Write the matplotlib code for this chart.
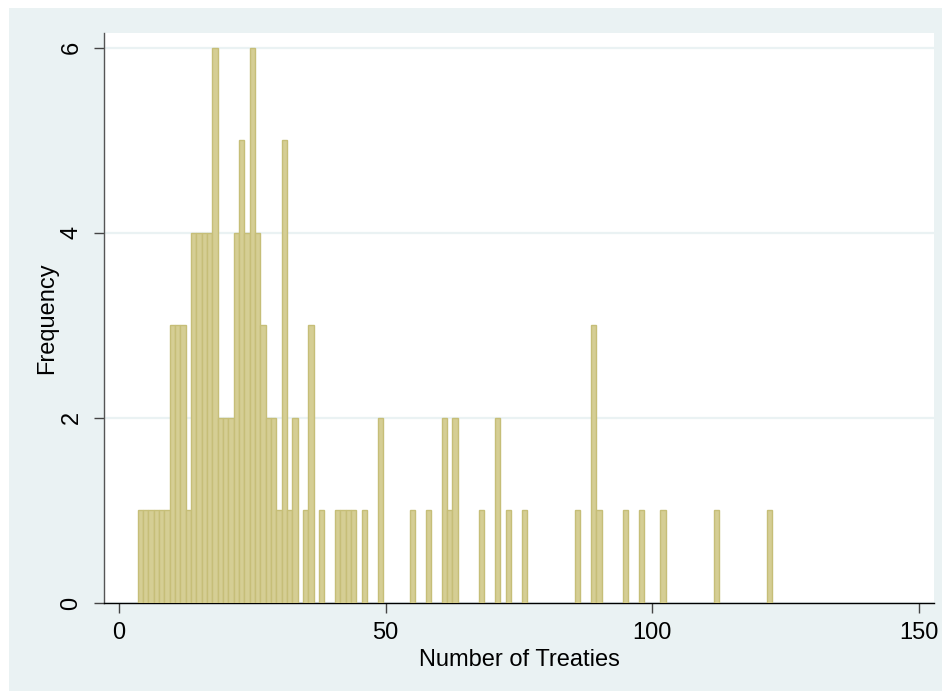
import matplotlib
matplotlib.use("Agg")
import matplotlib.pyplot as plt
from matplotlib.patches import Rectangle

treaties = [4, 5, 6, 7, 8, 9, 10, 11, 12, 13, 14, 15, 16, 17, 18, 19, 20, 21,
            22, 23, 24, 25, 26, 27, 28, 29, 30, 31, 32, 33, 35, 36, 38, 41, 42,
            43, 44, 46, 49, 55, 58, 61, 62, 63, 68, 71, 73, 76, 86, 89, 90, 95,
            98, 102, 112, 122]
frequency = [1, 1, 1, 1, 1, 1, 3, 3, 3, 1, 4, 4, 4, 4, 6, 2, 2, 2,
             4, 5, 4, 6, 4, 3, 2, 2, 1, 5, 1, 2, 1, 3, 1, 1, 1,
             1, 1, 1, 2, 1, 1, 2, 1, 2, 1, 2, 1, 1, 1, 3, 1, 1,
             1, 1, 1, 1]
xticks = [0, 50, 100, 150]
yticks = [0, 2, 4, 6]

plt.rcParams['font.family'] = ['Liberation Sans', 'DejaVu Sans']

W, H = 946, 691
fig = plt.figure(figsize=(W / 100, H / 100), dpi=100, facecolor='white')
bg = Rectangle((9 / W, 0), (942 - 9) / W, (691 - 8) / H, transform=fig.transFigure,
               facecolor='#eaf2f3', edgecolor='none', zorder=-10)
fig.add_artist(bg)

left, right, top, bottom = 104, 934, 33, 603
ax = fig.add_axes([left / W, (H - bottom) / H, (right - left) / W, (bottom - top) / H])
ax.set_zorder(5)
ax.set_facecolor('white')

ax.bar(treaties, frequency, width=1.0, align='center', color='#d5ce94',
       edgecolor='#c6be78', linewidth=1.0, zorder=3)

ax.set_xlim(-2.8, 152.8)
ax.set_ylim(0, 6.16)
ax.set_xticks(xticks)
ax.set_yticks(yticks)
ax.set_yticklabels([str(t) for t in yticks], rotation=90, va='center')
ax.yaxis.grid(True, color='#eaf2f3', linewidth=1.6, zorder=1)
ax.set_axisbelow(True)

for s in ['top', 'right']:
    ax.spines[s].set_visible(False)
ax.spines['left'].set_color('#555555')
ax.spines['left'].set_linewidth(1.0)
ax.spines['bottom'].set_color('#000000')
ax.spines['bottom'].set_linewidth(1.0)

ax.tick_params(axis='both', direction='out', length=7.5, width=1.0, color='#444444',
               labelsize=17, pad=6)
ax.tick_params(axis='y', pad=8)

ax.set_xlabel('Number of Treaties', fontsize=17, labelpad=4)
ax.set_ylabel('Frequency', fontsize=17, labelpad=2)

fig.savefig('out.png', dpi=100, facecolor='white')
